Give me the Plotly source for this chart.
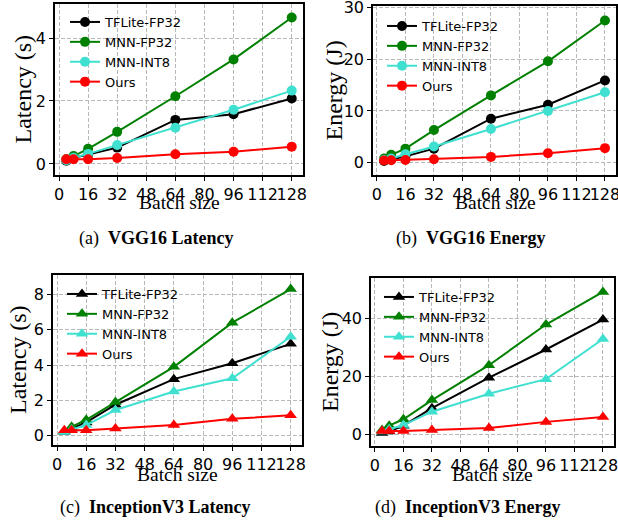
import plotly.graph_objects as go

batch = [4, 8, 16, 32, 64, 96, 128]
series_names = ["TFLite-FP32", "MNN-FP32", "MNN-INT8", "Ours"]
series_colors = ["#000000", "#008000", "#40E0D0", "#FF0000"]

# (a) VGG16 latency (s)
vgg_lat_tflite = [0.10, 0.20, 0.30, 0.52, 1.40, 1.58, 2.08]
vgg_lat_mnn_fp32 = [0.15, 0.25, 0.48, 1.02, 2.15, 3.32, 4.65]
vgg_lat_mnn_int8 = [0.12, 0.20, 0.32, 0.60, 1.15, 1.72, 2.33]
vgg_lat_ours = [0.15, 0.15, 0.15, 0.19, 0.31, 0.39, 0.55]

# (b) VGG16 energy (J)
vgg_en_tflite = [0.3, 0.6, 1.2, 2.7, 8.5, 11.2, 15.9]
vgg_en_mnn_fp32 = [0.8, 1.5, 2.7, 6.3, 13.0, 19.6, 27.5]
vgg_en_mnn_int8 = [0.5, 0.8, 1.6, 3.1, 6.5, 10.0, 13.6]
vgg_en_ours = [0.4, 0.45, 0.5, 0.65, 1.1, 1.8, 2.8]

# (c) InceptionV3 latency (s)
inc_lat_tflite = [0.20, 0.40, 0.75, 1.75, 3.20, 4.10, 5.20]
inc_lat_mnn_fp32 = [0.25, 0.50, 0.90, 1.90, 3.90, 6.40, 8.30]
inc_lat_mnn_int8 = [0.20, 0.35, 0.60, 1.45, 2.50, 3.25, 5.60]
inc_lat_ours = [0.30, 0.30, 0.30, 0.40, 0.60, 0.95, 1.15]

# (d) InceptionV3 energy (J)
inc_en_tflite = [0.5, 1.0, 3.0, 9.0, 19.5, 29.2, 39.5]
inc_en_mnn_fp32 = [1.5, 3.0, 5.2, 11.8, 23.8, 37.8, 49.0]
inc_en_mnn_int8 = [1.0, 1.8, 3.2, 7.8, 14.0, 19.0, 32.8]
inc_en_ours = [1.2, 1.2, 1.2, 1.5, 2.2, 4.3, 6.0]

x_ticks = [0, 16, 32, 48, 64, 80, 96, 112, 128]
y_ticks_a = [0, 2, 4]
y_ticks_b = [0, 10, 20, 30]
y_ticks_c = [0, 2, 4, 6, 8]
y_ticks_d = [0, 20, 40]

captions = ["(a)\u2002<b>VGG16 Latency</b>", "(b)\u2002<b>VGG16 Energy</b>",
            "(c)\u2002<b>InceptionV3 Latency</b>", "(d)\u2002<b>InceptionV3 Energy</b>"]
x_title = "Batch size"
y_titles = ["Latency (s)", "Energy (J)", "Latency (s)", "Energy (J)"]

W, H = 618, 522

panels = [
    dict(data=[vgg_lat_tflite, vgg_lat_mnn_fp32, vgg_lat_mnn_int8, vgg_lat_ours],
         box=(55, 303, 4, 175), yr=[-0.35, 5.08], yt=y_ticks_a, sym="circle",
         leg=(65, 7), legbox=(58, 188, 7, 90), ytx=22, xt=(179, 203), cap=(156, 238)),
    dict(data=[vgg_en_tflite, vgg_en_mnn_fp32, vgg_en_mnn_int8, vgg_en_ours],
         box=(373, 616, 6, 175), yr=[-2.4, 30.3], yt=y_ticks_b, sym="circle",
         leg=(382, 11), legbox=(376, 512, 9, 94), ytx=333, xt=(495, 203), cap=(471, 238)),
    dict(data=[inc_lat_tflite, inc_lat_mnn_fp32, inc_lat_mnn_int8, inc_lat_ours],
         box=(53, 302, 275, 445), yr=[-0.53, 9.1], yt=y_ticks_c, sym="triangle-up",
         leg=(62, 279), legbox=(56, 188, 278, 363), ytx=18, xt=(177, 474), cap=(155, 507)),
    dict(data=[inc_en_tflite, inc_en_mnn_fp32, inc_en_mnn_int8, inc_en_ours],
         box=(371, 614, 278, 446), yr=[-4.0, 53.8], yt=y_ticks_d, sym="triangle-up",
         leg=(379, 282), legbox=(374, 500, 281, 361), ytx=330, xt=(492, 474), cap=(468, 507)),
]

fig = go.Figure()
layout = dict(width=W, height=H, margin=dict(l=0, r=0, t=0, b=0, autoexpand=False),
              paper_bgcolor="white", plot_bgcolor="white", showlegend=True,
              font=dict(family="DejaVu Sans", color="black"))
annotations = []
shapes = []

tick_font = dict(family="DejaVu Sans", size=16, color="black")
xtitle_font = dict(family="Liberation Serif", size=19.5, color="black")
ytitle_font = dict(family="Liberation Serif", size=24, color="black")
cap_font = dict(family="Liberation Serif", size=18, color="black")

for i, p in enumerate(panels):
    n = i + 1
    xa = "x" if n == 1 else f"x{n}"
    ya = "y" if n == 1 else f"y{n}"
    lg = "legend" if n == 1 else f"legend{n}"
    x0, x1, t, b = p["box"]
    for k in range(4):
        fig.add_trace(go.Scatter(
            x=batch, y=p["data"][k], name=series_names[k], mode="lines+markers",
            line=dict(color=series_colors[k], width=2),
            marker=dict(color=series_colors[k], size=10 if p["sym"] == "circle" else 11,
                        symbol=p["sym"]),
            xaxis=xa, yaxis=ya, legend=lg))
    axis_common = dict(showline=True, linecolor="black", linewidth=1.6, mirror=True,
                       ticks="outside", ticklen=4, tickwidth=1, tickcolor="black",
                       showgrid=True, gridcolor="#b8b8b8", griddash="4px,2px", gridwidth=0.8,
                       zeroline=False, tickfont=tick_font, ticklabeloverflow="allow",
                       automargin=False)
    layout["xaxis" if n == 1 else f"xaxis{n}"] = dict(
        domain=[x0 / W, x1 / W], anchor=ya, range=[-2.2, 134.2], tickangle=0,
        tickvals=x_ticks, ticktext=[str(v) for v in x_ticks], **axis_common)
    layout["yaxis" if n == 1 else f"yaxis{n}"] = dict(
        domain=[1 - b / H, 1 - t / H], anchor=xa, range=p["yr"],
        tickvals=p["yt"], ticktext=[str(v) for v in p["yt"]], **axis_common)
    lx, ly = p["leg"]
    layout[lg] = dict(x=lx / W, y=1 - ly / H, xanchor="left", yanchor="top",
                      bgcolor="rgba(0,0,0,0)", borderwidth=0, itemwidth=30,
                      font=dict(family="DejaVu Sans", size=13, color="black"))
    bx0, bx1, by0, by1 = p["legbox"]
    shapes.append(dict(type="rect", xref=f"{xa} domain", yref=f"{ya} domain",
                       x0=(bx0 - x0) / (x1 - x0), x1=(bx1 - x0) / (x1 - x0),
                       y0=(b - by1) / (b - t), y1=(b - by0) / (b - t),
                       fillcolor="white", line=dict(width=0), layer="below"))
    annotations.append(dict(text=y_titles[i], x=p["ytx"] / W, y=1 - ((t + b) / 2) / H,
                            xref="paper", yref="paper", showarrow=False, textangle=-90,
                            xanchor="center", yanchor="middle", font=ytitle_font))
    xtx, xty = p["xt"]
    annotations.append(dict(text=x_title, x=xtx / W, y=1 - xty / H, xref="paper",
                            yref="paper", showarrow=False, xanchor="center",
                            yanchor="middle", font=xtitle_font))
    cx, cy = p["cap"]
    annotations.append(dict(text=captions[i], x=cx / W, y=1 - cy / H, xref="paper",
                            yref="paper", showarrow=False, xanchor="center",
                            yanchor="middle", font=cap_font))

layout["annotations"] = annotations
layout["shapes"] = shapes
fig.update_layout(**layout)
fig.write_html("out.html", config={"displayModeBar": False},
               post_script="document.body.style.margin='0px';"
                           "document.body.style.overflow='hidden';")
